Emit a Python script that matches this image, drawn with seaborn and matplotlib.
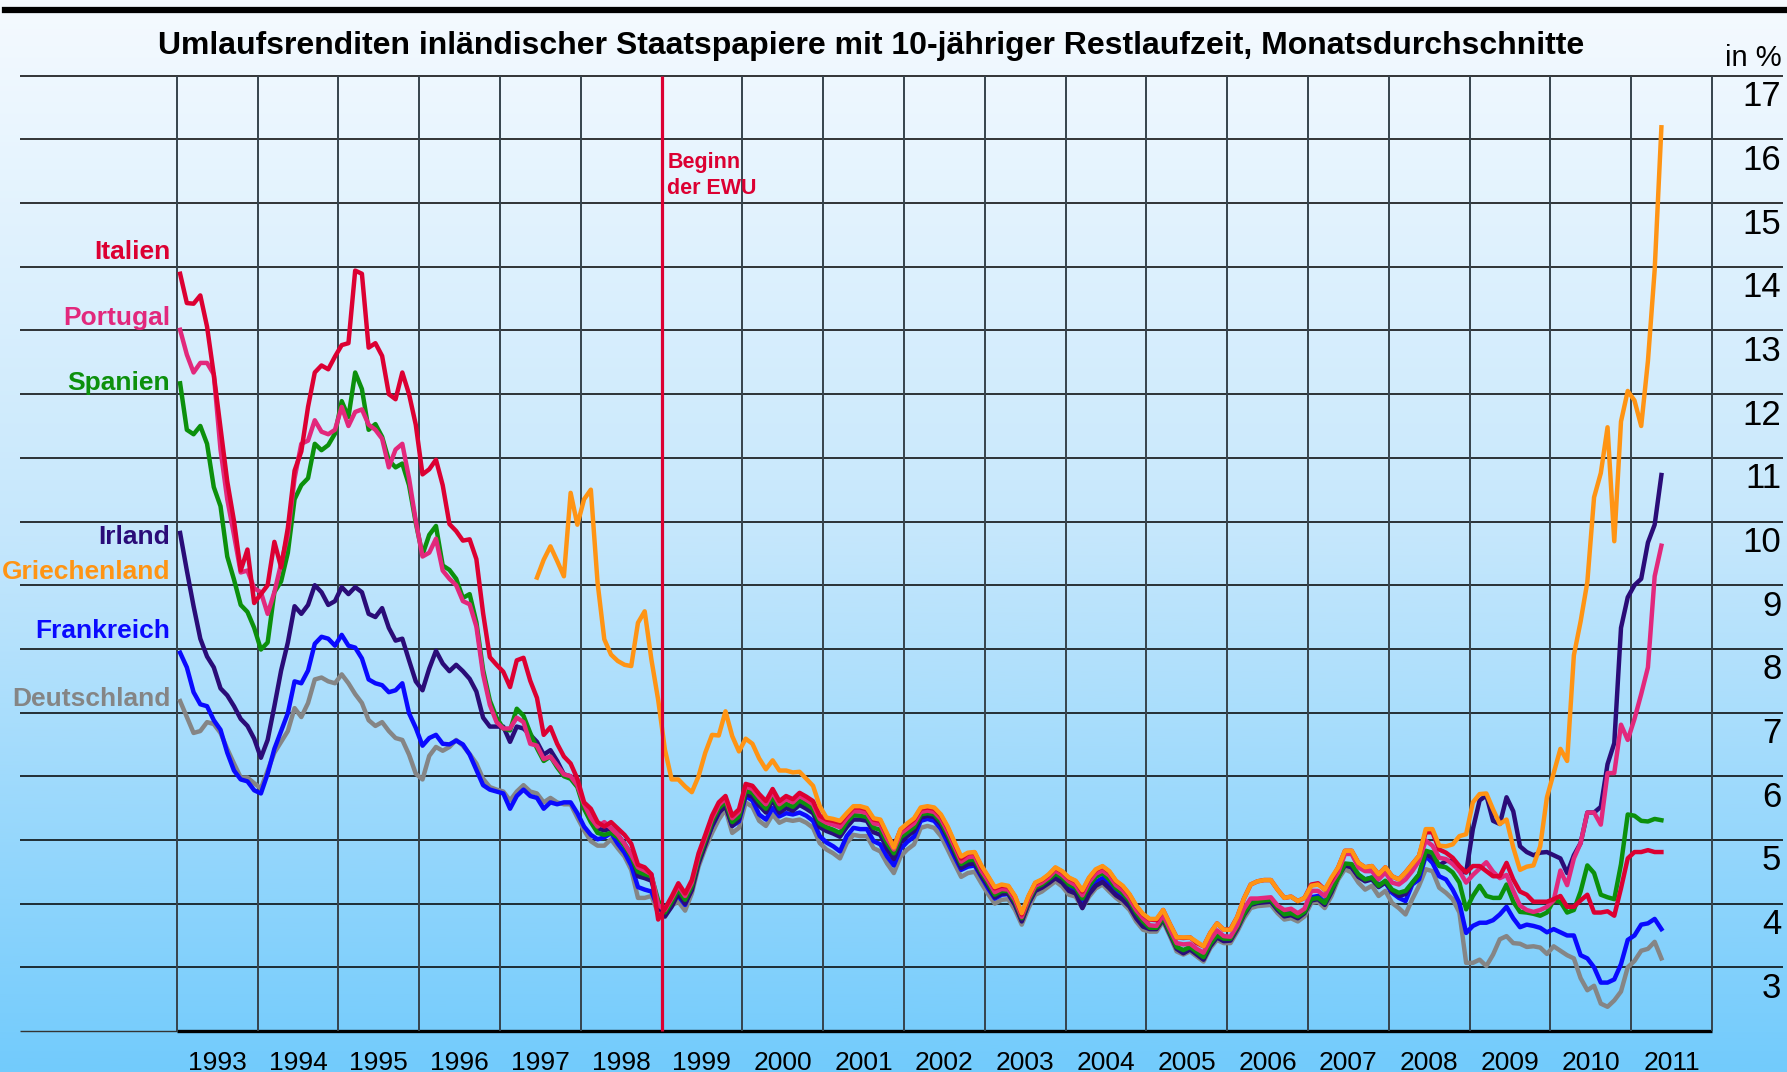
import numpy as np
import pandas as pd
import seaborn as sns
import matplotlib.pyplot as plt
from matplotlib.lines import Line2D

plt.rcParams['font.family'] = ['Liberation Sans', 'DejaVu Sans']

# Monatsdurchschnitte, Januar 1993 bis Mai 2011 (in %)
italien = [
    13.89, 13.43, 13.42, 13.55, 13.06, 12.31, 11.47, 10.63, 10.01, 9.23, 9.56, 8.72,
    8.86, 9.00, 9.68, 9.28, 9.90, 10.80, 11.10, 11.80, 12.34, 12.45, 12.39, 12.59,
    12.77, 12.80, 13.94, 13.89, 12.73, 12.80, 12.60, 12.00, 11.92, 12.34, 12.00, 11.52,
    10.74, 10.82, 10.97, 10.57, 9.96, 9.85, 9.70, 9.72, 9.41, 8.56, 7.87, 7.75,
    7.64, 7.40, 7.82, 7.86, 7.50, 7.23, 6.65, 6.77, 6.51, 6.31, 6.20, 5.96,
    5.59, 5.49, 5.28, 5.21, 5.28, 5.18, 5.08, 4.94, 4.61, 4.57, 4.46, 3.75,
    3.92, 4.11, 4.32, 4.16, 4.37, 4.79, 5.08, 5.38, 5.59, 5.69, 5.38, 5.48,
    5.88, 5.85, 5.72, 5.61, 5.80, 5.61, 5.69, 5.64, 5.74, 5.68, 5.61, 5.38,
    5.32, 5.30, 5.27, 5.40, 5.51, 5.51, 5.48, 5.32, 5.30, 5.08, 4.90, 5.16,
    5.24, 5.32, 5.49, 5.51, 5.49, 5.38, 5.19, 4.95, 4.71, 4.79, 4.80, 4.58,
    4.42, 4.24, 4.28, 4.27, 4.11, 3.83, 4.11, 4.32, 4.37, 4.45, 4.56, 4.50,
    4.40, 4.35, 4.19, 4.40, 4.53, 4.58, 4.50, 4.35, 4.27, 4.14, 3.96, 3.83,
    3.75, 3.74, 3.90, 3.68, 3.47, 3.46, 3.47, 3.38, 3.33, 3.54, 3.69, 3.59,
    3.60, 3.79, 4.08, 4.30, 4.35, 4.37, 4.37, 4.22, 4.09, 4.11, 4.04, 4.09,
    4.30, 4.32, 4.22, 4.38, 4.57, 4.83, 4.83, 4.64, 4.57, 4.59, 4.46, 4.57,
    4.43, 4.38, 4.49, 4.62, 4.75, 5.12, 5.12, 4.85, 4.80, 4.72, 4.59, 4.49,
    4.59, 4.59, 4.51, 4.43, 4.43, 4.64, 4.38, 4.19, 4.14, 4.03, 4.03, 4.03,
    4.07, 4.12, 3.95, 3.95, 4.05, 4.14, 3.86, 3.86, 3.88, 3.81, 4.24, 4.71,
    4.81, 4.81, 4.84, 4.81, 4.81,
]
portugal = [
    13.01, 12.62, 12.34, 12.49, 12.49, 12.31, 11.13, 10.35, 9.79, 9.20, 9.23, 8.95,
    8.89, 8.55, 8.89, 9.34, 9.79, 10.68, 11.22, 11.27, 11.59, 11.41, 11.37, 11.44,
    11.80, 11.50, 11.72, 11.76, 11.52, 11.44, 11.30, 10.85, 11.13, 11.22, 10.68, 10.01,
    9.45, 9.51, 9.73, 9.23, 9.10, 9.00, 8.75, 8.70, 8.35, 7.60, 7.12, 6.85,
    6.75, 6.75, 6.92, 6.85, 6.51, 6.48, 6.27, 6.31, 6.17, 6.03, 6.00, 5.86,
    5.56, 5.35, 5.21, 5.28, 5.18, 5.08, 4.94, 4.77, 4.57, 4.52, 4.46, 3.98,
    3.90, 4.08, 4.28, 4.12, 4.33, 4.75, 5.04, 5.34, 5.55, 5.65, 5.34, 5.44,
    5.84, 5.80, 5.67, 5.56, 5.75, 5.56, 5.64, 5.59, 5.69, 5.63, 5.56, 5.33,
    5.27, 5.24, 5.20, 5.34, 5.45, 5.45, 5.42, 5.26, 5.24, 5.02, 4.85, 5.10,
    5.18, 5.26, 5.44, 5.46, 5.44, 5.33, 5.13, 4.90, 4.66, 4.73, 4.74, 4.52,
    4.36, 4.18, 4.23, 4.22, 4.06, 3.79, 4.07, 4.28, 4.33, 4.41, 4.52, 4.45,
    4.35, 4.29, 4.13, 4.34, 4.47, 4.52, 4.44, 4.29, 4.21, 4.08, 3.90, 3.77,
    3.66, 3.65, 3.82, 3.60, 3.38, 3.36, 3.37, 3.29, 3.23, 3.43, 3.58, 3.49,
    3.48, 3.66, 3.92, 4.08, 4.08, 4.09, 4.10, 3.97, 3.90, 3.92, 3.85, 3.92,
    4.20, 4.20, 4.12, 4.33, 4.49, 4.78, 4.78, 4.57, 4.51, 4.51, 4.38, 4.49,
    4.33, 4.30, 4.38, 4.51, 4.67, 4.99, 4.91, 4.72, 4.70, 4.62, 4.51, 4.33,
    4.45, 4.55, 4.65, 4.50, 4.40, 4.45, 4.20, 3.97, 3.90, 3.87, 3.90, 3.95,
    4.05, 4.52, 4.29, 4.71, 4.95, 5.43, 5.43, 5.24, 6.05, 6.05, 6.81, 6.57,
    6.90, 7.29, 7.71, 9.14, 9.62,
]
spanien = [
    12.17, 11.44, 11.37, 11.50, 11.22, 10.54, 10.24, 9.45, 9.09, 8.69, 8.58, 8.33,
    7.99, 8.10, 8.89, 9.06, 9.51, 10.35, 10.57, 10.68, 11.22, 11.12, 11.20, 11.38,
    11.89, 11.64, 12.34, 12.08, 11.44, 11.53, 11.33, 10.96, 10.85, 10.91, 10.57, 9.98,
    9.48, 9.79, 9.93, 9.31, 9.24, 9.10, 8.80, 8.86, 8.42, 7.67, 7.19, 6.92,
    6.75, 6.72, 7.06, 6.95, 6.68, 6.44, 6.24, 6.31, 6.14, 6.00, 5.96, 5.83,
    5.49, 5.28, 5.11, 5.08, 5.11, 5.04, 4.91, 4.74, 4.50, 4.46, 4.43, 4.05,
    3.86, 4.03, 4.22, 4.06, 4.28, 4.70, 4.99, 5.29, 5.50, 5.60, 5.28, 5.37,
    5.77, 5.74, 5.60, 5.49, 5.68, 5.49, 5.57, 5.52, 5.62, 5.56, 5.49, 5.26,
    5.20, 5.16, 5.11, 5.28, 5.39, 5.38, 5.36, 5.19, 5.16, 4.95, 4.79, 5.04,
    5.12, 5.20, 5.40, 5.42, 5.40, 5.28, 5.08, 4.85, 4.62, 4.68, 4.69, 4.49,
    4.32, 4.14, 4.20, 4.20, 4.03, 3.77, 4.04, 4.25, 4.30, 4.38, 4.47, 4.41,
    4.30, 4.25, 4.08, 4.28, 4.42, 4.48, 4.38, 4.24, 4.16, 4.04, 3.86, 3.72,
    3.62, 3.62, 3.78, 3.55, 3.32, 3.27, 3.32, 3.24, 3.16, 3.37, 3.50, 3.45,
    3.45, 3.63, 3.84, 4.00, 4.03, 4.05, 4.06, 3.93, 3.83, 3.85, 3.80, 3.87,
    4.07, 4.09, 4.01, 4.22, 4.41, 4.63, 4.62, 4.46, 4.38, 4.41, 4.28, 4.36,
    4.22, 4.17, 4.20, 4.33, 4.46, 4.83, 4.80, 4.59, 4.57, 4.49, 4.33, 3.91,
    4.12, 4.28, 4.12, 4.09, 4.09, 4.30, 4.03, 3.87, 3.86, 3.84, 3.81, 3.86,
    4.05, 4.03, 3.86, 3.90, 4.19, 4.60, 4.48, 4.14, 4.10, 4.07, 4.62, 5.40,
    5.38, 5.30, 5.29, 5.33, 5.31,
]
irland = [
    9.82, 9.23, 8.67, 8.16, 7.88, 7.71, 7.38, 7.27, 7.10, 6.90, 6.79, 6.59,
    6.29, 6.57, 7.10, 7.66, 8.10, 8.67, 8.55, 8.69, 9.00, 8.89, 8.69, 8.75,
    8.97, 8.86, 8.97, 8.89, 8.55, 8.50, 8.64, 8.33, 8.13, 8.16, 7.82, 7.49,
    7.35, 7.69, 7.97, 7.77, 7.65, 7.75, 7.65, 7.53, 7.33, 6.92, 6.78, 6.78,
    6.78, 6.54, 6.78, 6.75, 6.65, 6.54, 6.34, 6.41, 6.24, 6.03, 6.00, 5.86,
    5.56, 5.35, 5.18, 5.15, 5.18, 5.08, 4.94, 4.77, 4.43, 4.40, 4.36, 3.98,
    3.80, 3.95, 4.16, 4.00, 4.21, 4.63, 4.92, 5.22, 5.43, 5.53, 5.22, 5.32,
    5.72, 5.68, 5.54, 5.43, 5.62, 5.43, 5.50, 5.46, 5.55, 5.49, 5.42, 5.20,
    5.14, 5.10, 5.05, 5.20, 5.32, 5.32, 5.30, 5.12, 5.08, 4.86, 4.70, 4.96,
    5.06, 5.14, 5.35, 5.38, 5.36, 5.24, 5.04, 4.80, 4.56, 4.62, 4.63, 4.44,
    4.28, 4.10, 4.16, 4.16, 3.98, 3.72, 4.00, 4.20, 4.25, 4.32, 4.40, 4.33,
    4.20, 4.16, 3.93, 4.15, 4.28, 4.34, 4.24, 4.13, 4.06, 3.95, 3.77, 3.64,
    3.60, 3.60, 3.75, 3.52, 3.29, 3.22, 3.28, 3.20, 3.12, 3.33, 3.47, 3.41,
    3.42, 3.60, 3.82, 3.98, 4.01, 4.02, 4.03, 3.90, 3.80, 3.82, 3.77, 3.85,
    4.05, 4.07, 3.98, 4.18, 4.42, 4.60, 4.57, 4.42, 4.35, 4.38, 4.26, 4.33,
    4.20, 4.12, 4.15, 4.32, 4.45, 4.78, 4.72, 4.60, 4.67, 4.67, 4.51, 4.49,
    5.17, 5.62, 5.70, 5.30, 5.25, 5.67, 5.45, 4.90, 4.81, 4.76, 4.80, 4.81,
    4.76, 4.71, 4.48, 4.76, 4.95, 5.43, 5.43, 5.52, 6.19, 6.52, 8.33, 8.81,
    9.00, 9.10, 9.67, 9.95, 10.73,
]
frankreich = [
    7.94, 7.71, 7.32, 7.13, 7.10, 6.88, 6.73, 6.37, 6.09, 5.95, 5.92, 5.78,
    5.73, 6.04, 6.43, 6.71, 6.99, 7.49, 7.46, 7.66, 8.08, 8.19, 8.16, 8.05,
    8.22, 8.05, 8.02, 7.85, 7.52, 7.46, 7.43, 7.32, 7.35, 7.46, 6.99, 6.76,
    6.48, 6.60, 6.65, 6.51, 6.50, 6.56, 6.50, 6.34, 6.10, 5.86, 5.79, 5.76,
    5.73, 5.49, 5.69, 5.79, 5.69, 5.66, 5.49, 5.59, 5.56, 5.59, 5.59, 5.42,
    5.21, 5.08, 5.01, 5.04, 5.11, 4.94, 4.80, 4.60, 4.26, 4.22, 4.19, 3.92,
    3.88, 4.05, 4.12, 3.98, 4.25, 4.67, 4.96, 5.21, 5.42, 5.57, 5.22, 5.29,
    5.69, 5.62, 5.40, 5.32, 5.50, 5.37, 5.42, 5.40, 5.43, 5.38, 5.30, 5.06,
    4.96, 4.90, 4.82, 5.06, 5.19, 5.17, 5.17, 4.98, 4.93, 4.74, 4.60, 4.86,
    4.97, 5.05, 5.30, 5.33, 5.30, 5.17, 4.96, 4.74, 4.53, 4.58, 4.60, 4.42,
    4.24, 4.08, 4.14, 4.15, 3.98, 3.74, 4.00, 4.21, 4.27, 4.35, 4.43, 4.36,
    4.24, 4.20, 4.02, 4.20, 4.34, 4.40, 4.29, 4.18, 4.10, 3.99, 3.80, 3.66,
    3.63, 3.62, 3.78, 3.55, 3.31, 3.26, 3.31, 3.23, 3.15, 3.36, 3.50, 3.45,
    3.45, 3.63, 3.86, 4.02, 4.05, 4.06, 4.07, 3.94, 3.84, 3.86, 3.81, 3.89,
    4.10, 4.12, 4.02, 4.21, 4.47, 4.62, 4.57, 4.43, 4.38, 4.41, 4.30, 4.33,
    4.17, 4.09, 4.04, 4.30, 4.38, 4.75, 4.64, 4.43, 4.38, 4.22, 4.01, 3.54,
    3.65, 3.70, 3.70, 3.74, 3.83, 3.95, 3.77, 3.63, 3.67, 3.65, 3.62, 3.55,
    3.60, 3.55, 3.50, 3.50, 3.19, 3.14, 3.00, 2.76, 2.76, 2.81, 3.05, 3.43,
    3.50, 3.67, 3.69, 3.76, 3.60,
]
deutschland = [
    7.18, 6.93, 6.68, 6.71, 6.85, 6.82, 6.68, 6.43, 6.20, 5.98, 5.98, 5.89,
    5.81, 6.09, 6.37, 6.54, 6.71, 7.07, 6.93, 7.15, 7.52, 7.55, 7.49, 7.46,
    7.60, 7.46, 7.29, 7.15, 6.88, 6.79, 6.85, 6.71, 6.60, 6.57, 6.34, 6.04,
    5.95, 6.32, 6.46, 6.40, 6.46, 6.57, 6.48, 6.35, 6.20, 5.96, 5.83, 5.79,
    5.76, 5.62, 5.76, 5.86, 5.76, 5.73, 5.59, 5.66, 5.59, 5.56, 5.56, 5.35,
    5.15, 4.98, 4.91, 4.91, 5.01, 4.87, 4.74, 4.53, 4.09, 4.09, 4.12, 3.85,
    3.79, 3.97, 4.03, 3.89, 4.16, 4.58, 4.87, 5.11, 5.32, 5.48, 5.11, 5.19,
    5.59, 5.52, 5.30, 5.22, 5.40, 5.27, 5.32, 5.30, 5.32, 5.27, 5.19, 4.95,
    4.85, 4.79, 4.71, 4.95, 5.08, 5.06, 5.06, 4.87, 4.82, 4.63, 4.48, 4.74,
    4.85, 4.93, 5.19, 5.22, 5.19, 5.06, 4.85, 4.63, 4.42, 4.48, 4.50, 4.32,
    4.15, 4.00, 4.06, 4.07, 3.90, 3.67, 3.93, 4.14, 4.19, 4.27, 4.35, 4.27,
    4.14, 4.11, 3.93, 4.11, 4.24, 4.30, 4.19, 4.09, 4.01, 3.90, 3.72, 3.59,
    3.56, 3.56, 3.72, 3.49, 3.25, 3.20, 3.25, 3.17, 3.09, 3.30, 3.43, 3.38,
    3.38, 3.56, 3.77, 3.93, 3.96, 3.97, 3.98, 3.85, 3.75, 3.77, 3.72, 3.80,
    4.01, 4.03, 3.93, 4.12, 4.38, 4.54, 4.49, 4.33, 4.22, 4.28, 4.12, 4.20,
    4.01, 3.93, 3.83, 4.07, 4.28, 4.54, 4.51, 4.25, 4.17, 4.07, 3.86, 3.07,
    3.07, 3.12, 3.02, 3.20, 3.44, 3.49, 3.38, 3.37, 3.32, 3.33, 3.31, 3.21,
    3.33, 3.26, 3.19, 3.14, 2.83, 2.64, 2.71, 2.43, 2.38, 2.48, 2.62, 3.00,
    3.10, 3.26, 3.29, 3.40, 3.14,
]
# Griechenland erst ab Juni 1997 (Monat Nr. 53 ab Januar 1993)
griechenland_start = 53
griechenland = [
    9.12, 9.40, 9.61, 9.38, 9.14, 10.45, 9.95,
    10.35, 10.50, 9.04, 8.15, 7.91, 7.81, 7.75, 7.73, 8.41, 8.59, 7.83, 7.20,
    6.42, 5.95, 5.95, 5.84, 5.75, 6.00, 6.37, 6.65, 6.64, 7.02, 6.63, 6.39,
    6.59, 6.51, 6.28, 6.11, 6.25, 6.09, 6.09, 6.06, 6.07, 5.96, 5.85, 5.53,
    5.35, 5.33, 5.30, 5.42, 5.53, 5.53, 5.50, 5.34, 5.32, 5.10, 4.88, 5.17,
    5.26, 5.34, 5.51, 5.53, 5.51, 5.40, 5.21, 4.97, 4.74, 4.80, 4.81, 4.60,
    4.43, 4.26, 4.30, 4.28, 4.12, 3.85, 4.12, 4.33, 4.38, 4.46, 4.57, 4.51,
    4.41, 4.36, 4.21, 4.41, 4.54, 4.59, 4.51, 4.36, 4.28, 4.15, 3.97, 3.84,
    3.76, 3.76, 3.90, 3.68, 3.47, 3.47, 3.47, 3.40, 3.33, 3.54, 3.69, 3.59,
    3.59, 3.79, 4.08, 4.30, 4.35, 4.37, 4.37, 4.22, 4.09, 4.11, 4.04, 4.09,
    4.28, 4.30, 4.22, 4.41, 4.57, 4.83, 4.83, 4.64, 4.57, 4.59, 4.46, 4.57,
    4.43, 4.38, 4.49, 4.62, 4.75, 5.17, 5.17, 4.91, 4.90, 4.93, 5.06, 5.09,
    5.59, 5.72, 5.73, 5.48, 5.25, 5.32, 4.88, 4.53, 4.58, 4.60, 4.90, 5.67,
    6.05, 6.43, 6.24, 7.90, 8.43, 9.05, 10.38, 10.76, 11.48, 9.69, 11.57, 12.05,
    11.90, 11.50, 12.52, 13.95, 16.19,
]

laender = ['Deutschland', 'Frankreich', 'Irland', 'Spanien', 'Portugal', 'Italien', 'Griechenland']
werte = [deutschland, frankreich, irland, spanien, portugal, italien, griechenland]
starts = [0, 0, 0, 0, 0, 0, griechenland_start]
farben = {
    'Italien': '#dc0032',
    'Portugal': '#e2287c',
    'Spanien': '#0c900c',
    'Irland': '#2a0c78',
    'Griechenland': '#ff9414',
    'Frankreich': '#0a0aff',
    'Deutschland': '#858585',
}
# label positions on the left (value axis)
label_y = {'Italien': 14.23, 'Portugal': 13.19, 'Spanien': 12.17, 'Irland': 9.75,
           'Griechenland': 9.20, 'Frankreich': 8.28, 'Deutschland': 7.22}

frames = []
for name, vals, s in zip(laender, werte, starts):
    monat = np.arange(s, s + len(vals))
    frames.append(pd.DataFrame({'zeit': 1993 + (monat + 0.5) / 12,
                                'rendite': vals, 'land': name}))
df = pd.concat(frames, ignore_index=True)

W, H = 1787, 1072
fig = plt.figure(figsize=(W / 100, H / 100), dpi=100)

# background gradient (white at top, light blue at bottom)
bg = fig.add_axes([0, 0, 1, 1], zorder=-5)
top = np.array([245, 250, 255]) / 255
mid = np.array([197, 231, 252]) / 255
bot = np.array([114, 203, 252]) / 255
t = np.linspace(0, 1, 400)[:, None]
grad = np.where(t < 0.5, top + (mid - top) * (t / 0.5), mid + (bot - mid) * ((t - 0.5) / 0.5))
bg.imshow(grad[:, None, :], aspect='auto', extent=[0, 1, 0, 1])
bg.axis('off')

x0, x1 = 1991.06, 2012.88
ax = fig.add_axes([20 / W, 1 - 1031 / H, 1763 / W, 955.3 / H])
ax.patch.set_alpha(0)
ax.set_xlim(x0, x1)
ax.set_ylim(2, 17)

# grid
ax.hlines(range(3, 18), x0, x1, color='black', lw=1.1, zorder=1, clip_on=False)
ax.hlines(2, x0, 1993, color='#333333', lw=1.0, zorder=1, clip_on=False)
ax.hlines(2, 1993, 2012, color='black', lw=2.4, zorder=1, clip_on=False)
ax.vlines(range(1993, 2013), 2, 17, color='#36434c', lw=1.4, zorder=1)

for i, name in enumerate(laender):
    sns.lineplot(data=df[df['land'] == name], x='zeit', y='rendite', color=farben[name],
                 lw=3.2, ax=ax, legend=False, zorder=3 + i)

ax.vlines(1999, 2, 17, color='#dc0032', lw=2.3, zorder=12, clip_on=False)
ax.text(1999.07, 15.43, 'Beginn\nder EWU', color='#dc0032', fontsize=15.5,
        fontweight='bold', ha='left', va='center', linespacing=1.3)

for name in laender:
    ax.text(1992.92, label_y[name], name, color=farben[name], fontsize=19,
            fontweight='bold', ha='right', va='center')

for v in range(3, 18):
    ax.text(2012.86, v - 0.33, str(v), fontsize=25, ha='right', va='center')

for y in range(1993, 2012):
    ax.text(y + 0.5, 1.50, str(y), fontsize=19, ha='center', va='center', clip_on=False)

ax.set_xticks([])
ax.set_yticks([])
ax.set_xlabel('')
ax.set_ylabel('')
for sp in ax.spines.values():
    sp.set_visible(False)

fig.add_artist(Line2D([5 / W, 1], [1 - 10 / H, 1 - 10 / H], color='black', lw=4.5))
fig.text(871 / W, 1 - 46 / H,
         'Umlaufsrenditen inländischer Staatspapiere mit 10-jähriger Restlaufzeit, Monatsdurchschnitte',
         fontsize=23, fontweight='bold', ha='center', va='center')
fig.text(1782 / W, 1 - 58 / H, 'in %', fontsize=21, ha='right', va='center')

fig.savefig('out.png', dpi=100)
